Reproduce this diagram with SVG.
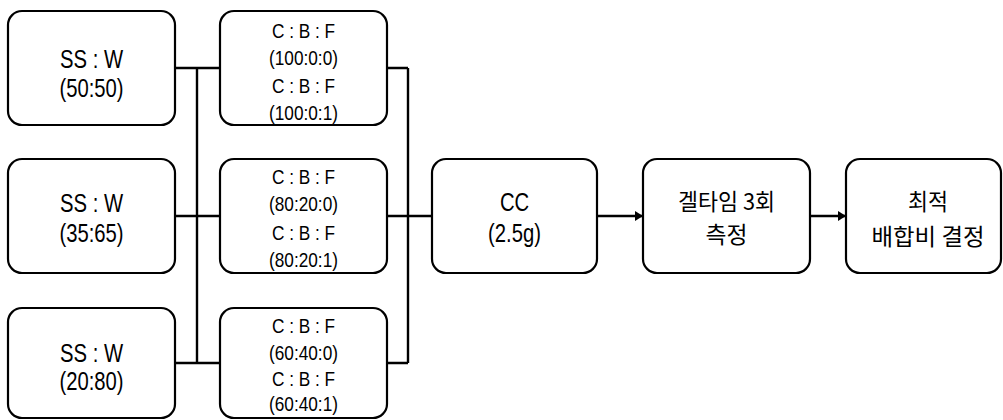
<svg xmlns="http://www.w3.org/2000/svg" width="1003" height="420" viewBox="0 0 1003 420">
  <defs>
    <style>
      .box { fill: #ffffff; stroke: #000000; stroke-width: 2.2; }
      .wire { fill: none; stroke: #000000; stroke-width: 2.4; }
      .big { font-family: "Liberation Sans", Arial, sans-serif; font-size: 25px; fill: #000000; text-anchor: middle; }
      .small { font-family: "Liberation Sans", Arial, sans-serif; font-size: 21px; fill: #000000; text-anchor: middle; }
      .ko { font-family: "Noto Sans CJK KR", "Liberation Sans", sans-serif; font-size: 23px; fill: #000000; text-anchor: middle; }
    </style>
    <marker id="head" viewBox="0 0 8 10" refX="8" refY="5" markerWidth="8" markerHeight="10" markerUnits="userSpaceOnUse" orient="auto">
      <path d="M0,0 L8,5 L0,10 Z" fill="#000000"/>
    </marker>
  </defs>

  <rect width="1003" height="420" fill="#ffffff"/>

  <!-- connectors -->
  <g id="connectors">
    <path class="wire" d="M175,68 H220 M175,216 H220 M175,363 H220 M197,68 V363"/>
    <path class="wire" d="M387,68 H408 M387,216 H432 M387,363 H408 M408,68 V363"/>
    <path class="wire" d="M597,216 H643" marker-end="url(#head)"/>
    <path class="wire" d="M810,216 H846" marker-end="url(#head)"/>
  </g>

  <!-- SS : W ratios (narrow lettering: x scaled about the box centre) -->
  <g id="ss1">
    <rect class="box" x="8" y="11" width="167" height="114" rx="14"/>
    <g transform="translate(91.5,0) scale(0.81,1)">
      <text class="big" x="0" y="68">SS : W</text>
      <text class="big" x="0" y="97">(50:50)</text>
    </g>
  </g>
  <g id="ss2">
    <rect class="box" x="8" y="159" width="167" height="114" rx="14"/>
    <g transform="translate(91.5,0) scale(0.81,1)">
      <text class="big" x="0" y="212">SS : W</text>
      <text class="big" x="0" y="242">(35:65)</text>
    </g>
  </g>
  <g id="ss3">
    <rect class="box" x="8" y="308" width="167" height="110" rx="14"/>
    <g transform="translate(91.5,0) scale(0.81,1)">
      <text class="big" x="0" y="362">SS : W</text>
      <text class="big" x="0" y="390">(20:80)</text>
    </g>
  </g>

  <!-- C : B : F ratios -->
  <g id="cbf1">
    <rect class="box" x="220" y="11" width="167" height="114" rx="14"/>
    <g transform="translate(303.5,0) scale(0.82,1)">
      <text class="small" x="0" y="38">C : B : F</text>
      <text class="small" x="0" y="65">(100:0:0)</text>
      <text class="small" x="0" y="93">C : B : F</text>
      <text class="small" x="0" y="120">(100:0:1)</text>
    </g>
  </g>
  <g id="cbf2">
    <rect class="box" x="220" y="159" width="167" height="114" rx="14"/>
    <g transform="translate(303.5,0) scale(0.82,1)">
      <text class="small" x="0" y="184">C : B : F</text>
      <text class="small" x="0" y="211">(80:20:0)</text>
      <text class="small" x="0" y="240">C : B : F</text>
      <text class="small" x="0" y="267">(80:20:1)</text>
    </g>
  </g>
  <g id="cbf3">
    <rect class="box" x="220" y="308" width="167" height="110" rx="14"/>
    <g transform="translate(303.5,0) scale(0.82,1)">
      <text class="small" x="0" y="333">C : B : F</text>
      <text class="small" x="0" y="360">(60:40:0)</text>
      <text class="small" x="0" y="386">C : B : F</text>
      <text class="small" x="0" y="411">(60:40:1)</text>
    </g>
  </g>

  <!-- CC -->
  <g id="cc">
    <rect class="box" x="432" y="159" width="165" height="114" rx="14"/>
    <g transform="translate(514.5,0) scale(0.81,1)">
      <text class="big" x="0" y="211">CC</text>
      <text class="big" x="0" y="242">(2.5g)</text>
    </g>
  </g>

  <!-- gel time -->
  <g id="geltime">
    <rect class="box" x="643" y="159" width="167" height="114" rx="14"/>
    <text class="ko" x="726.5" y="210" textLength="97" lengthAdjust="spacingAndGlyphs">겔타임 3회</text>
    <text class="ko" x="726.5" y="243" textLength="42" lengthAdjust="spacingAndGlyphs">측정</text>
  </g>

  <!-- optimum mix -->
  <g id="optimum">
    <rect class="box" x="846" y="159" width="155" height="114" rx="14"/>
    <text class="ko" x="928" y="210" textLength="40" lengthAdjust="spacingAndGlyphs">최적</text>
    <text class="ko" x="928" y="245" textLength="113" lengthAdjust="spacingAndGlyphs">배합비 결정</text>
  </g>
</svg>
